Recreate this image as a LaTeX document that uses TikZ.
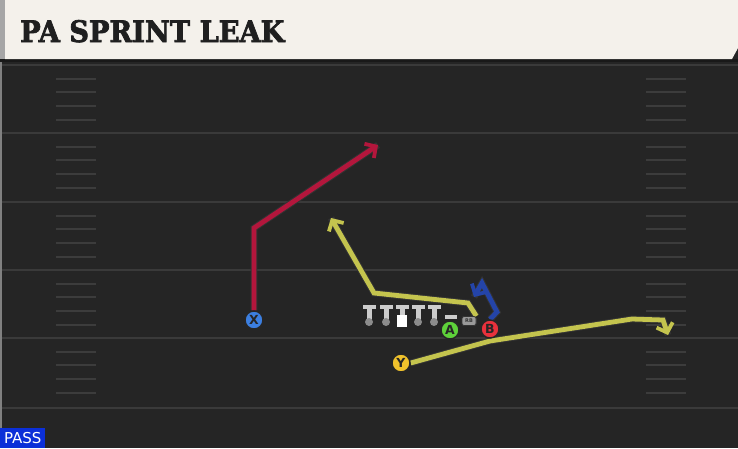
\documentclass[tikz,border=0pt]{standalone}
\usepackage{fontspec}
\usepackage{graphicx}
\setmainfont{DejaVu Sans}
\newfontfamily\titlefont{DejaVu Serif}[FakeBold=2.5]
\usetikzlibrary{arrows.meta,positioning,calc}

\definecolor{fieldbg}{HTML}{252525}
\definecolor{yardline}{HTML}{3A3A3A}
\definecolor{hashline}{HTML}{3C3C3C}
\definecolor{banner}{HTML}{F4F1EB}
\definecolor{routered}{HTML}{B3163C}
\definecolor{routeyellow}{HTML}{C4C44E}
\definecolor{routeblue}{HTML}{2444A8}
\definecolor{xblue}{HTML}{3C7FE0}
\definecolor{agreen}{HTML}{5ED13A}
\definecolor{bred}{HTML}{E8313C}
\definecolor{ygold}{HTML}{F0C22C}
\definecolor{passblue}{HTML}{0B2FD8}

\begin{document}
\begin{tikzpicture}[
    x=1pt, y=-1pt, % 1 unit = 1 pixel, y downwards
    >={Straight Barb[length=8pt,width=17pt,line width=3.8pt]},
    % player circles
    player/.style={
        circle,
        draw=black!85,
        line width=1.4pt,
        minimum size=18pt,
        inner sep=0pt,
        font=\bfseries\fontsize{12.5}{12.5}\selectfont,
        text=black!85
    },
    % routes
    route/.style={
        line width=4.8pt,
        line join=miter,
        preaction={draw=black!80, line width=6.8pt, arrows=-}
    },
    back/.style={draw=black!80, fill=black!40, rounded corners=2pt, line width=0.8pt,
        minimum width=14pt, minimum height=9pt, inner sep=0pt,
        font=\bfseries\fontsize{5}{5}\selectfont, text=black!80},
    lineman/.style={fill=black!20},
    hash/.style={draw=hashline, line width=1.6pt}
]
    % --- 1. Background ---
    \useasboundingbox (0,0) rectangle (738,448);
    \fill[fieldbg] (0,0) rectangle (738,448);
    \fill[black!50] (0,60) rectangle (2,448);

    % yard lines
    \foreach \yy in {65,133,202,270,338,408}
        \draw[yardline, line width=1.8pt] (2,\yy) -- (738,\yy);

    % hash marks
    \foreach \yy in {65,133,202,270,338}
        \foreach \dy in {14,27,41,55}
        {
            \draw[hash] (56,\yy+\dy) -- (96,\yy+\dy);
            \draw[hash] (646,\yy+\dy) -- (686,\yy+\dy);
        }

    % --- 2. Title banner ---
    \fill[black!90] (0,59) rectangle (738,62);
    \fill[banner] (5,0) -- (738,0) -- (738,48) -- (732,59) -- (5,59) -- cycle;
    \fill[black!35] (0,0) rectangle (5,59);
    \node[anchor=base west, inner sep=0pt, text=black!88] (title) at (20,42)
        {\scalebox{0.94}[1.02]{\titlefont\bfseries\fontsize{29}{29}\selectfont PA SPRINT LEAK}};

    % --- 3. Line ---
    \foreach \xx/\nm in {369/lt,386/lg,418/rg,434/rt}
    {
        \fill[lineman] (\xx-6.5,304.5) rectangle (\xx+6.5,309);
        \fill[lineman] (\xx-2.5,309) rectangle (\xx+2.5,321);
        \node[circle, fill=black!45, inner sep=0pt, minimum size=8pt] (\nm) at (\xx,322) {};
    }
    % center
    \fill[lineman] (395.5,304.5) rectangle (408.5,309);
    \fill[lineman] (399.5,309) rectangle (404.5,315);
    \node[fill=white, inner sep=0pt, minimum width=10pt, minimum height=12pt] (ctr) at (402,321) {};
    % dash over A
    \fill[black!20] (445,315) rectangle (457,318.5);

    % --- 4. Players ---
    \node[player, fill=xblue] (x) at (254,320) {X};
    \node[player, fill=agreen] (a) at (450,330) {A};
    \node[player, fill=bred] (b) at (490,329) {B};
    \node[player, fill=ygold] (y) at (401,363) {Y};
    \node[back] (rb) at (469,321) {RB};

    % --- 5. Routes ---
    \coordinate (xbreak) at (254,228);
    \coordinate (xend) at (378,145);
    \coordinate (rbup) at (468,303);
    \coordinate (rbbend) at (374,293);
    \coordinate (rbend) at (331,218);
    \coordinate (bup) at (497,312);
    \coordinate (btop) at (482,283);
    \coordinate (bend) at (474,297);
    \coordinate (ybend) at (490,341);
    \coordinate (yflat) at (632,319);
    \coordinate (ycorner) at (663,320);
    \coordinate (yend) at (668,335);

    \draw[route, routered, ->] (x.north) -- (xbreak) -- (xend);
    \draw[route, routeyellow, ->] (rb.north east) -- (rbup) -- (rbbend) -- (rbend);
    \draw[route, routeblue, ->] (b.north) -- (bup) -- (btop) -- (bend);
    \draw[route, routeyellow, ->] (y.east) -- (ybend) -- (yflat) -- (ycorner) -- (yend);

    % redraw players on top of routes
    \node[player, fill=xblue] at (x) {X};
    \node[player, fill=bred] at (b) {B};
    \node[player, fill=ygold] at (y) {Y};
    \node[back] at (rb) {RB};

    % --- 6. Play type tag ---
    \node[fill=passblue, text=white, anchor=south west, minimum width=45pt,
        minimum height=20pt, inner sep=0pt, font=\fontsize{15}{15}\selectfont] (pass) at (0,448) {PASS};
\end{tikzpicture}
\end{document}
